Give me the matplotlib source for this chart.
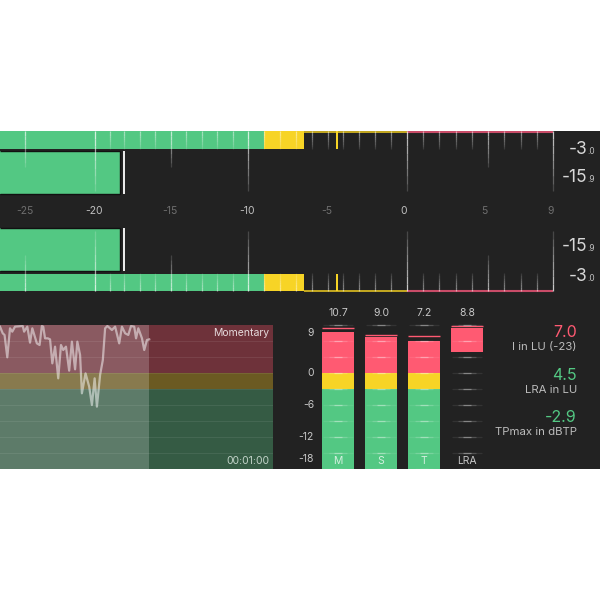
import numpy as np
import matplotlib
matplotlib.use("Agg")
from matplotlib import pyplot as plt

plt.rcParams['font.family'] = ['Inter', 'DejaVu Sans']

BG = '#222222'
GREEN = '#53c883'
YELLOW = '#f7d426'
RED = '#ff5a72'

# peak meters (LU)
row_peak = -6.5
row_peak_hold = -4.4
level = -18.3
level_hold = -18.0
scale_ticks = [-25, -20, -15, -10, -5, 0, 5, 9]
scale_labels = ['-25', '-20', '-15', '-10', '-5', '0', '5', '9']
minor_ticks = [-19, -18, -17, -16, -14, -13, -12, -11, -9, -8, -7, -6, -4, -3, -2, -1, 1, 2, 3, 4, 6, 7, 8]
readouts_big = ['-3', '-15', '-15', '-3']
readouts_small = ['.0', '.9', '.9', '.0']

# the scale is not quite linear, anchors are dB -> pixel
scale_db = [-26.8, -25, -20, -18, -10, 0, 9, 11.9]
scale_px = [0, 25, 95, 124, 248, 407, 553, 600]
label_nudge = [0, -1, -1, -1, -1, -3, -4, -2]

# momentary history
time_s = [0, 0.6, 1.0, 1.6, 2.2, 2.7, 3.3, 5.0, 5.3, 6.0, 6.6, 7.1, 8.1, 8.7, 9.2, 9.5, 9.9, 10.5,
          11.0, 11.5, 12.1, 12.8, 13.4, 13.9, 14.5, 15.2, 15.8, 16.5, 17.0, 17.6, 18.0, 18.8, 19.6,
          20.2, 20.8, 21.3, 22.0, 22.6, 23.1, 23.6, 24.6, 25.3, 26.2, 26.8, 27.5, 28.2, 28.8, 29.5,
          29.9, 30.4, 31.2, 31.7, 32.3, 32.8]
momentary = [8.69, 7.44, 7.13, 2.94, 8.38, 7.75, 8.69, 8.81, 7.75, 8.69, 5.69, 8.38, 5.56, 5.25, 8.81,
             8.69, 6.5, 6.5, 6.31, 1.81, 4.94, -1.0, 5.25, 4.31, 4.94, 0.44, 5.88, 0.69, 5.88, 3.38,
             -3.81, -0.06, -2.56, -6.0, -1.0, -6.31, -0.37, 2.44, 8.38, 8.81, 8.06, 8.69, 5.56, 8.69,
             7.44, 7.13, 8.81, 8.69, 6.5, 8.38, 6.5, 4.31, 6.19, 6.31]

# loudness columns
columns = ['M', 'S', 'T']
col_top = [7.7, 6.75, 6.0]
col_hold = [8.5, 7.1, 6.9]
col_max = ['10.7', '9.0', '7.2', '8.8']
lra_low = 3.9
lra_high = 8.4
lra_hold = 8.9
lu_ticks = [9, 6, 3, 0, -3, -6, -9, -12, -15, -18]
lu_labels = {9: '9', 0: '0', -6: '-6', -12: '-12', -18: '-18'}

summary_values = ['7.0', '4.5', '-2.9']
summary_names = ['I in LU (-23)', 'LRA in LU', 'TPmax in dBTP']
summary_colors = [RED, GREEN, GREEN]


def px_axes(fig, left, top, right, bottom):
    ax = fig.add_axes([left / 600, 1 - bottom / 600, (right - left) / 600, (bottom - top) / 600])
    ax.set_axis_off()
    return ax


def fade_v(ax, x, y0, y1, alpha, n=8):
    # tick that fades out from y0 to y1
    ys = np.linspace(y0, y1, n + 1)
    for i in range(n):
        ax.vlines(x, ys[i], ys[i + 1], color='white', lw=0.9, alpha=alpha * (1 - i / n) ** 0.7, zorder=4)


fig = plt.figure(figsize=(6, 6), dpi=100, facecolor='white')

# --- top meters, y axis is in picture rows
ax = px_axes(fig, 0, 131, 600, 469)
ax.set_axis_on()
for s in ax.spines.values():
    s.set_visible(False)
ax.set_facecolor(BG)
ax.set_xscale('function', functions=(lambda v: np.interp(v, scale_db, scale_px),
                                     lambda v: np.interp(v, scale_px, scale_db)))
ax.set_xlim(scale_db[0], scale_db[-1])
ax.set_ylim(469, 131)
ax.set_xticks([])
ax.set_yticks([])
ax.minorticks_off()

for y0, y1, line_y, sign in [(131, 149, 131.5, 1), (274, 291, 290.5, -1)]:
    ax.barh((y0 + y1) / 2, -9 - scale_db[0], left=scale_db[0], height=y1 - y0, color=GREEN, zorder=2)
    ax.barh((y0 + y1) / 2, row_peak + 9, left=-9, height=y1 - y0, color=YELLOW, zorder=2)
    ax.barh((y0 + y1) / 2, 0.14, left=row_peak_hold - 0.07, height=y1 - y0, color=YELLOW, zorder=5)
    ax.hlines(line_y, row_peak, 0, color='#e0c020', lw=1.2, zorder=3)
    ax.hlines(line_y, 0, 9, color='#c94c68', lw=1.5, zorder=3)
    edge = y0 if sign > 0 else y1
    for t in minor_ticks:
        fade_v(ax, t, edge, edge + sign * 18, 0.5)
    for t in [-25, -15, 5]:
        fade_v(ax, t, edge, edge + sign * 36, 0.65)
    fade_v(ax, -5, edge, edge + sign * 18, 0.5)
    for t in [-20, -10, 0, 9]:
        fade_v(ax, t, edge, edge + sign * 60, 0.75)

for y0, y1 in [(151, 194), (228, 271)]:
    ax.barh((y0 + y1) / 2, level - scale_db[0], left=scale_db[0], height=y1 - y0, color=GREEN, zorder=2)
    ax.hlines([y0, y1], scale_db[0], level, color='#111111', lw=1, zorder=3)
    ax.vlines(level, y0, y1, color='#111111', lw=1, zorder=3)
    ax.vlines(level_hold, y0, y1, color='white', lw=1.3, zorder=5)

for t, lbl, nudge in zip(scale_ticks, scale_labels, label_nudge):
    bright = t in (-20, -10, 0)
    ax.annotate(lbl, (t, 211), xytext=(nudge, 0), textcoords='offset pixels', ha='center', va='center',
                fontsize=7.5, color='#c0c0c0' if bright else '#6e6e6e', zorder=6)

for big, small, y in zip(readouts_big, readouts_small, [153.5, 182, 251, 281]):
    ax.annotate(big, (scale_db[-1], y), xytext=(-13, 0), textcoords='offset pixels', ha='right',
                va='baseline', fontsize=12.5, color='#d8d8d8', zorder=6)
    ax.annotate(small, (scale_db[-1], y), xytext=(-13, 0), textcoords='offset pixels', ha='left',
                va='baseline', fontsize=6, color='#c0c0c0', zorder=6)

# --- momentary history
hist = px_axes(fig, 0, 325, 273, 469)
hist.set_xlim(0, 60)
hist.set_ylim(-18, 9)
hist.axhspan(0, 9, color='#6e323a', lw=0, zorder=1)
hist.axhspan(-3, 0, color='#6b5a22', lw=0, zorder=1)
hist.axhspan(-18, -3, color='#355b44', lw=0, zorder=1)
for v in lu_ticks[1:-1]:
    hist.axhline(v, color='white', lw=0.8, alpha=0.08, zorder=2)
hist.axvspan(0, time_s[-1], color='white', alpha=0.2, lw=0, zorder=3)
hist.plot(time_s, momentary, color='white', alpha=0.5, lw=1.6, zorder=4)
hist.text(59.1, 7.5, 'Momentary', ha='right', va='center', fontsize=7.5, color='#e6dadc', zorder=5)
hist.text(59.1, -16.5, '00:01:00', ha='right', va='center', fontsize=7.5, color='#c4d4ca', zorder=5)

# --- loudness columns, 43 px between columns
cols = px_axes(fig, 273, 300, 500, 469)
cols.set_xlim((273 - 338) / 43, (500 - 338) / 43)
cols.set_ylim(-18, (373 - 300) / 5.333)
x_pos = np.arange(len(columns))
width = 0.74
cols.bar(x_pos, 15, bottom=-18, width=width, color=GREEN, zorder=2)
cols.bar(x_pos, 3, bottom=-3, width=width, color=YELLOW, zorder=2)
cols.bar(x_pos, col_top, bottom=0, width=width, color=RED, zorder=2)
cols.bar(3, lra_high - lra_low, bottom=lra_low, width=width, color=RED, zorder=2)
cols.hlines(col_hold, x_pos - width / 2, x_pos + width / 2, color=RED, lw=1, zorder=3)
cols.hlines(lra_hold, 3 - width / 2, 3 + width / 2, color=RED, lw=1, zorder=3)

for x in range(4):
    for v in lu_ticks:
        # wide faint tick with a brighter core
        for half, a in [(0.34, 0.08), (0.22, 0.15), (0.1, 0.3)]:
            cols.hlines(v, x - half, x + half, color='white', lw=0.9, alpha=a, zorder=4)
    cols.text(x, 11.25, col_max[x], ha='center', va='center', fontsize=7.5, color='#c8c8c8')

for v, lbl in lu_labels.items():
    va = {9: 'top', -18: 'bottom'}.get(v, 'center')
    off = {9: -0.6, -18: 0.9}.get(v, 0)
    cols.text(-0.56, v + off, lbl, ha='right', va=va, fontsize=7.5, color='#c8c8c8')

for x, lbl in enumerate(columns):
    cols.text(x, -16.5, lbl, ha='center', va='center', fontsize=7.5, color='#d5f0e0', zorder=5)
cols.text(3, -16.5, 'LRA', ha='center', va='center', fontsize=7.5, color='#c8c8c8', zorder=5)

# --- summary numbers on the right, same rows as the columns
side = px_axes(fig, 490, 300, 600, 469)
side.set_xlim(490, 600)
side.set_ylim(469, 300)
for name, val, color, y in zip(summary_names, summary_values, summary_colors, [332, 375, 417]):
    side.text(577, y, val, ha='right', va='center', fontsize=11.5, color=color)
    side.text(577, y + 15, name, ha='right', va='center', fontsize=8.2, color='#bcbcbc')

fig.savefig('out.png', dpi=100, facecolor='white')
